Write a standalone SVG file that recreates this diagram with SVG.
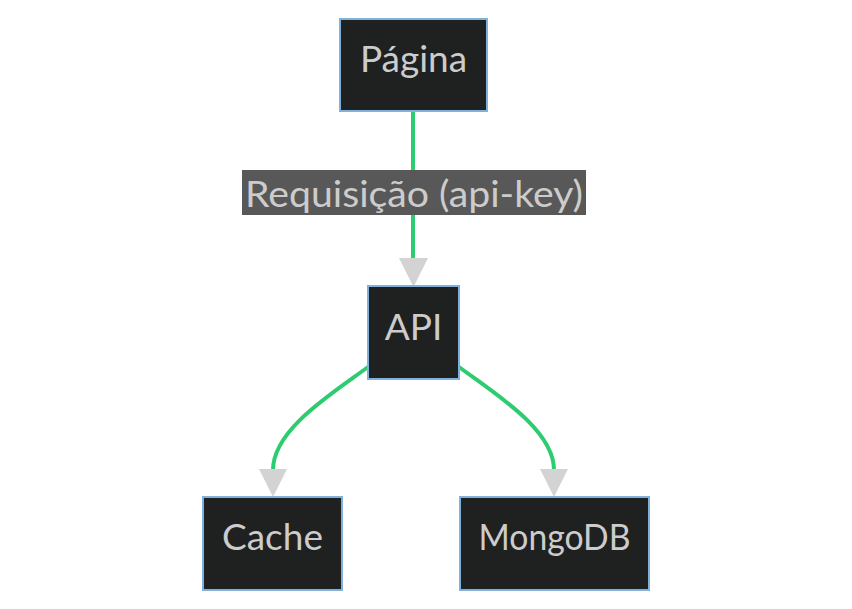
<svg xmlns="http://www.w3.org/2000/svg" width="852" height="609" viewBox="0 0 852 609">
<style>
.node rect{fill:#1f2020;stroke:#81b1db;stroke-width:2}
.node text,.lbl text{font-family:Lato,"DejaVu Sans",sans-serif;font-size:37px;fill:#cccccc;text-anchor:middle}
.edge{fill:none;stroke:#2ecc71;stroke-width:4}
.head{fill:#d3d3d3}
</style>
<rect width="852" height="609" fill="#ffffff"/>
<g id="connectors">
<path class="edge" d="M413,111L413,258" />
<path class="head" d="M399,258L428,258L413.5,287z"/>
<path class="edge" d="M368,367C330,395 273,430 273,470"/>
<path class="head" d="M259,469L287,469L273,497z"/>
<path class="edge" d="M459,367C497,395 554,430 554,470"/>
<path class="head" d="M540,469L568,469L554,497z"/>
<g class="lbl">
<rect x="242" y="170" width="344" height="45" fill="#585858"/>
<text x="414" y="207" textLength="338" lengthAdjust="spacingAndGlyphs">Requisição (api-key)</text>
</g>
</g>
<g id="pagina" class="node"><rect x="340" y="19" width="147" height="92"/><text x="413.5" y="72">Página</text></g>
<g id="api" class="node"><rect x="368" y="286" width="91" height="93"/><text x="413.5" y="340">API</text></g>
<g id="cache" class="node"><rect x="203" y="497" width="139" height="93"/><text x="272.5" y="550">Cache</text></g>
<g id="mongodb" class="node"><rect x="460" y="497" width="189" height="93"/><text x="554.5" y="550" textLength="152" lengthAdjust="spacingAndGlyphs">MongoDB</text></g>
</svg>
